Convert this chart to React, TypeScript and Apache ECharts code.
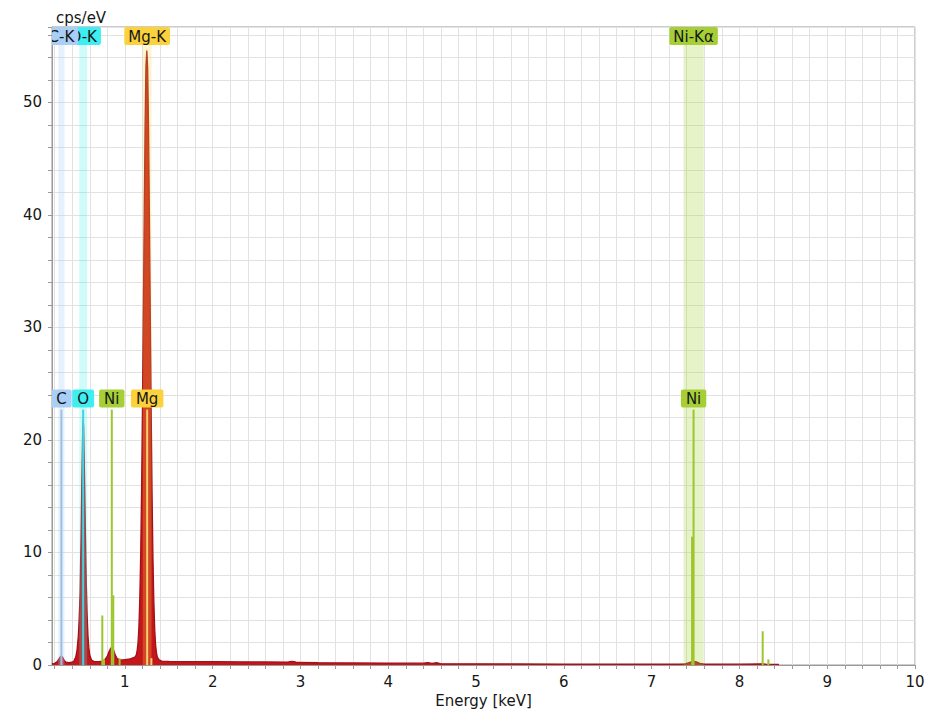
import React, { useEffect, useRef } from 'react';
import * as echarts from 'echarts';

// ---- spectrum (energy in keV, counts in cps/eV) ----
const ENERGY = [
  0.17, 0.2, 0.23, 0.25, 0.27, 0.29, 0.31, 0.33, 0.36, 0.4,
  0.42, 0.44, 0.455, 0.47, 0.48, 0.49, 0.5, 0.51, 0.52, 0.525,
  0.53, 0.54, 0.55, 0.56, 0.57, 0.58, 0.59, 0.6, 0.62, 0.65,
  0.7, 0.74, 0.76, 0.78, 0.8, 0.82, 0.84, 0.855, 0.87, 0.89,
  0.91, 0.94, 0.98, 1.02, 1.06, 1.1, 1.12, 1.13, 1.14, 1.15,
  1.16, 1.17, 1.18, 1.19, 1.2, 1.21, 1.22, 1.23, 1.24, 1.25,
  1.26, 1.27, 1.28, 1.29, 1.3, 1.31, 1.32, 1.33, 1.34, 1.35,
  1.36, 1.37, 1.39, 1.42, 1.5, 1.7, 2.0, 2.3, 2.6, 2.85,
  2.9, 2.93, 2.96, 3.2, 3.6, 4.0, 4.4, 4.45, 4.5, 4.55,
  4.6, 5.0, 5.5, 6.0, 6.5, 7.0, 7.3, 7.38, 7.42, 7.46,
  7.48, 7.51, 7.55, 7.6, 7.9, 8.0, 8.26, 8.3, 8.45
];
const CPS = [
  0.1, 0.15, 0.3, 0.55, 0.8, 0.7, 0.4, 0.25, 0.2, 0.25,
  0.35, 0.7, 1.3, 2.6, 4.2, 6.5, 11.0, 16.5, 21.0, 21.8,
  21.2, 17.0, 12.0, 7.5, 4.5, 2.6, 1.5, 0.9, 0.45, 0.3,
  0.3, 0.35, 0.4, 0.55, 0.8, 1.2, 1.5, 1.6, 1.35, 0.9,
  0.6, 0.45, 0.45, 0.5, 0.55, 0.65, 0.75, 0.9, 1.3, 2.0,
  3.4, 5.9, 9.7, 15.3, 22.5, 31.0, 39.9, 47.8, 53.2, 54.6,
  53.0, 47.6, 39.7, 30.8, 22.3, 15.1, 9.5, 5.7, 3.2, 1.8,
  1.1, 0.7, 0.45, 0.35, 0.32, 0.3, 0.3, 0.28, 0.27, 0.26,
  0.32, 0.3, 0.22, 0.2, 0.18, 0.17, 0.16, 0.22, 0.15, 0.2,
  0.1, 0.1, 0.09, 0.08, 0.08, 0.08, 0.08, 0.1, 0.2, 0.3,
  0.32, 0.28, 0.15, 0.08, 0.07, 0.07, 0.1, 0.07, 0.06
];

// ---- elements ----
const ELEMENT_LABEL_COLORS = ['#a9cff7', '#3eeef0', '#fcd23c', '#a6cf36']; // C, O, Mg, Ni
const ELEMENT_BAND_COLORS = [
  'rgba(169,207,247,0.3)',
  'rgba(62,238,240,0.25)',
  'rgba(252,210,60,0.25)',
  'rgba(166,207,54,0.28)'
];
const ELEMENT_LINE_COLORS = ['#9dbfe2', '#45d2dc', '#f6d070', '#9cc62c'];

// element windows (drawn in this order: C-K over O-K)
const BAND_LABELS = ['O-K', 'C-K', 'Mg-K', 'Ni-Kα'];
const BAND_ELEMENT = [1, 0, 2, 3];
const BAND_ENERGY = [0.525, 0.277, 1.254, 7.478];
const BAND_WIDTH = [0.09, 0.07, 0.1, 0.23];

// characteristic lines
const LINE_ELEMENT = [0, 1, 3, 3, 3, 3, 3, 2, 2, 3, 3, 3, 3];
const LINE_ENERGY = [0.277, 0.525, 0.743, 0.762, 0.851, 0.868, 0.94, 1.254, 1.302, 7.461, 7.478, 8.265, 8.33];
const LINE_HEIGHT = [22.7, 22.7, 4.4, 0.5, 22.7, 6.2, 0.6, 22.7, 0.6, 11.4, 22.7, 3.0, 0.5];

// peak labels
const PEAK_LABELS = ['C', 'O', 'Ni', 'Mg', 'Ni'];
const PEAK_ELEMENT = [0, 1, 3, 2, 3];
const PEAK_ENERGY = [0.277, 0.525, 0.851, 1.254, 7.478];
const PEAK_HEIGHT = [22.7, 22.7, 22.7, 22.7, 22.7];

// ---- axes ----
const X_MIN = 0.17;
const X_MAX = 10;
const Y_MIN = 0;
const Y_MAX = 56.7;
const Y_INTERVAL = 2;
const X_LABELS = [1, 2, 3, 4, 5, 6, 7, 8, 9, 10];
const X_TICKS = [
  0.2, 0.4, 0.6, 0.8, 1.0, 1.2, 1.4, 1.6, 1.8, 2.0,
  2.2, 2.4, 2.6, 2.8, 3.0, 3.2, 3.4, 3.6, 3.8, 4.0,
  4.2, 4.4, 4.6, 4.8, 5.0, 5.2, 5.4, 5.6, 5.8, 6.0,
  6.2, 6.4, 6.6, 6.8, 7.0, 7.2, 7.4, 7.6, 7.8, 8.0,
  8.2, 8.4, 8.6, 8.8, 9.0, 9.2, 9.4, 9.6, 9.8, 10.0
];

const FONT_FAMILY = '"DejaVu Sans", Verdana, sans-serif';
const FONT_SIZE = 15;
const TEXT_COLOR = '#161616';
const AXIS_COLOR = '#9a9a9a';
const GRID_COLOR = '#e2e2e2';

export default function App() {
  const ref = useRef<HTMLDivElement>(null);

  useEffect(() => {
    if (!ref.current) return;
    const chart = echarts.init(ref.current, undefined, { renderer: 'svg' });

    const option: any = {
      animation: false,
      backgroundColor: '#ffffff',
      textStyle: { fontFamily: FONT_FAMILY },
      grid: {
        left: 52,
        right: 16,
        top: 27,
        bottom: 49,
        show: true,
        borderColor: AXIS_COLOR,
        borderWidth: 1,
        backgroundColor: 'transparent'
      },
      xAxis: {
        type: 'value',
        min: X_MIN,
        max: X_MAX,
        name: 'Energy [keV]',
        nameLocation: 'middle',
        nameGap: 26,
        nameTextStyle: { fontSize: FONT_SIZE, color: TEXT_COLOR, fontFamily: FONT_FAMILY },
        axisLine: { show: true, onZero: false, lineStyle: { color: AXIS_COLOR, width: 1 } },
        axisTick: { show: true, length: 4, customValues: X_TICKS, lineStyle: { color: AXIS_COLOR } },
        axisLabel: {
          customValues: X_LABELS,
          margin: 9,
          fontSize: FONT_SIZE,
          color: TEXT_COLOR,
          fontFamily: FONT_FAMILY,
          formatter: (v: number) => String(v)
        },
        splitLine: { show: true, lineStyle: { color: GRID_COLOR, width: 1 } }
      },
      yAxis: {
        type: 'value',
        min: Y_MIN,
        max: Y_MAX,
        interval: Y_INTERVAL,
        name: 'cps/eV',
        nameLocation: 'end',
        nameGap: 2,
        nameTextStyle: {
          fontSize: FONT_SIZE,
          color: TEXT_COLOR,
          fontFamily: FONT_FAMILY,
          align: 'left',
          verticalAlign: 'bottom',
          padding: [0, 0, 0, 4]
        },
        axisLine: { show: true, lineStyle: { color: AXIS_COLOR, width: 1 } },
        axisTick: { show: true, length: 4, lineStyle: { color: AXIS_COLOR } },
        axisLabel: {
          margin: 10,
          fontSize: FONT_SIZE,
          color: TEXT_COLOR,
          fontFamily: FONT_FAMILY,
          formatter: (v: number) => (Math.abs(v % 10) < 1e-9 ? String(v) : '')
        },
        splitLine: { show: true, lineStyle: { color: GRID_COLOR, width: 1 } }
      },
      series: [
        {
          type: 'line',
          name: 'spectrum',
          z: 2,
          data: ENERGY.map((e, i) => [e, CPS[i]]),
          showSymbol: false,
          symbol: 'none',
          clip: true,
          lineStyle: { color: '#a31116', width: 1.3 },
          areaStyle: { color: '#c4171c', opacity: 1 }
        },
        {
          type: 'custom',
          name: 'windows',
          z: 3,
          clip: true,
          silent: true,
          data: BAND_ENERGY.map((e, i) => [e, BAND_WIDTH[i]]),
          encode: { x: 0 },
          renderItem: (params: any, api: any) => {
            const i = params.dataIndex;
            const e = api.value(0);
            const w = api.value(1);
            const p1 = api.coord([e - w / 2, Y_MAX]);
            const p2 = api.coord([e + w / 2, Y_MIN]);
            return {
              type: 'rect',
              shape: { x: p1[0], y: p1[1], width: p2[0] - p1[0], height: p2[1] - p1[1] },
              style: { fill: ELEMENT_BAND_COLORS[BAND_ELEMENT[i]] }
            };
          }
        },
        {
          type: 'custom',
          name: 'lines',
          z: 4,
          clip: true,
          silent: true,
          data: LINE_ENERGY.map((e, i) => [e, LINE_HEIGHT[i]]),
          encode: { x: 0, y: 1 },
          renderItem: (params: any, api: any) => {
            const i = params.dataIndex;
            const p0 = api.coord([api.value(0), 0]);
            const p1 = api.coord([api.value(0), api.value(1)]);
            return {
              type: 'line',
              shape: { x1: p0[0], y1: p0[1], x2: p1[0], y2: p1[1] },
              style: { stroke: ELEMENT_LINE_COLORS[LINE_ELEMENT[i]], lineWidth: 2 }
            };
          }
        },
        {
          type: 'custom',
          name: 'peak labels',
          z: 5,
          clip: true,
          silent: true,
          data: PEAK_ENERGY.map((e, i) => [e, PEAK_HEIGHT[i]]),
          encode: { x: 0, y: 1 },
          renderItem: (params: any, api: any) => {
            const i = params.dataIndex;
            const p = api.coord([api.value(0), api.value(1)]);
            return {
              type: 'text',
              style: {
                text: PEAK_LABELS[i],
                x: p[0],
                y: p[1] - 2,
                align: 'center',
                verticalAlign: 'bottom',
                fill: TEXT_COLOR,
                font: `${FONT_SIZE}px ${FONT_FAMILY}`,
                backgroundColor: ELEMENT_LABEL_COLORS[PEAK_ELEMENT[i]],
                padding: [2, 5, 1, 5],
                borderRadius: 2
              }
            };
          }
        },
        {
          type: 'custom',
          name: 'window labels',
          z: 6,
          clip: true,
          silent: true,
          data: BAND_ENERGY.map((e) => [e]),
          encode: { x: 0 },
          renderItem: (params: any, api: any) => {
            const i = params.dataIndex;
            const p = api.coord([api.value(0), Y_MAX]);
            return {
              type: 'text',
              style: {
                text: BAND_LABELS[i],
                x: p[0],
                y: p[1],
                align: 'center',
                verticalAlign: 'top',
                fill: TEXT_COLOR,
                font: `${FONT_SIZE}px ${FONT_FAMILY}`,
                backgroundColor: ELEMENT_LABEL_COLORS[BAND_ELEMENT[i]],
                padding: [2, 4, 1, 4],
                borderRadius: 2
              }
            };
          }
        }
      ]
    };

    chart.setOption(option);
    return () => {
      chart.dispose();
    };
  }, []);

  return (
    <div
      ref={ref}
      style={{ position: 'fixed', left: 0, top: 0, width: 931, height: 714, background: '#fff' }}
    />
  );
}
